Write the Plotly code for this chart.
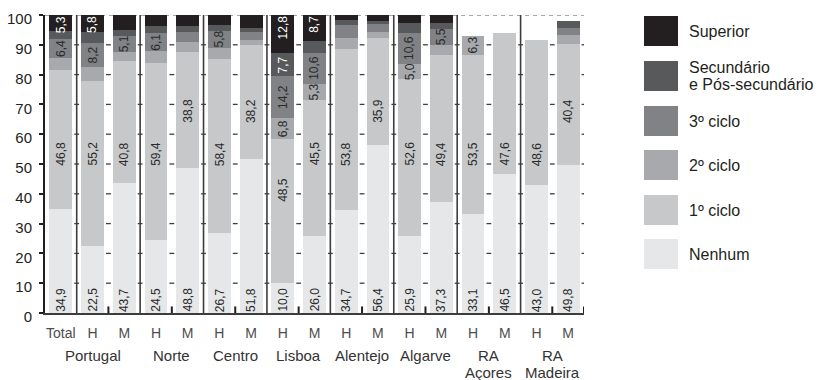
import plotly.graph_objects as go

# Educational attainment (%) by region and sex
GROUPS = [["Portugal"], ["Norte"], ["Centro"], ["Lisboa"], ["Alentejo"], ["Algarve"],
          ["RA", "Açores"], ["RA", "Madeira"]]
BAR_LABELS = ["Total", "H", "M", "H", "M", "H", "M", "H", "M",
              "H", "M", "H", "M", "H", "M", "H", "M"]
BAR_GROUP = [0, 0, 0, 1, 1, 2, 2, 3, 3, 4, 4, 5, 5, 6, 6, 7, 7]

SERIES = ["Nenhum", "1º ciclo", "2º ciclo", "3º ciclo",
          "Secundário e Pós-secundário", "Superior"]

NENHUM = [34.9, 22.5, 43.7, 24.5, 48.8, 26.7, 51.8, 10.0, 26.0,
          34.7, 56.4, 25.9, 37.3, 33.1, 46.5, 43.0, 49.8]
CICLO1 = [46.8, 55.2, 40.8, 59.4, 38.8, 58.4, 38.2, 48.5, 45.5,
          53.8, 35.9, 52.6, 49.4, 53.5, 47.6, 48.6, 40.4]
CICLO2 = [4.0, 4.8, 3.2, 4.1, 3.4, 3.9, 1.6, 6.8, 5.3,
          3.9, 2.0, 5.0, 3.2, 6.3, None, None, 3.1]
CICLO3 = [6.4, 8.2, 5.1, 6.1, 3.3, 5.8, 2.7, 14.2, 10.6,
          4.2, 2.7, 10.6, 5.5, None, None, None, 2.3]
SECUNDARIO = [2.6, 3.5, 2.2, 2.2, 2.0, 1.8, 1.3, 7.7, 3.9,
              1.7, 0.9, 3.3, 1.9, None, None, None, 2.4]
SUPERIOR = [5.3, 5.8, 5.0, 3.7, 3.7, 3.4, 4.4, 12.8, 8.7,
            1.7, 2.1, 2.6, 2.7, None, None, None, None]

VALUES = [NENHUM, CICLO1, CICLO2, CICLO3, SECUNDARIO, SUPERIOR]

# bars whose segment carries a printed value, per series
LABELLED = [
    set(range(17)),
    set(range(17)),
    {7, 8, 11, 13},
    {0, 1, 2, 3, 5, 7, 8, 11, 12},
    {7},
    {0, 1, 7, 8},
]

COLORS = ["#e6e7e8", "#c7c8ca", "#a7a9ac", "#808285", "#58595b", "#231f20"]
LABEL_COLORS = ["#2b2b2b", "#2b2b2b", "#2b2b2b", "#2b2b2b", "#ffffff", "#ffffff"]

# plot-area geometry (pixels)
W, H = 824, 380
L, R, T, B = 45, 240, 15, 67
PW, PH = W - L - R, H - T - B
PX_PER_UNIT = PH / 100.0
FONT = "Liberation Sans, Arial, sans-serif"
LBL_SIZE = 12


def fmt(v):
    return f"{v:.1f}".replace(".", ",")


def text_halfwidth(s):
    w = sum(0.278 if c == "," else 0.556 for c in s) * LBL_SIZE
    return w / 2.0


def paper_x(px):
    return (px - L) / PW


def paper_y(py):
    return (T + PH - py) / PH


xs = list(range(len(BAR_LABELS)))
fig = go.Figure()
for name, vals, col in zip(SERIES, VALUES, COLORS):
    fig.add_trace(go.Bar(
        x=xs, y=vals, name=name, width=0.72,
        marker=dict(color=col, line=dict(width=0)),
        showlegend=False, hoverinfo="skip",
    ))

annotations = []

# value labels inside the segments
for i in xs:
    base = 0.0
    for s, vals in enumerate(VALUES):
        v = vals[i]
        if v is None:
            continue
        top = base + v
        if i in LABELLED[s]:
            txt = fmt(v)
            hw = text_halfwidth(txt)
            hw_u = hw / PX_PER_UNIT
            yshift = 0
            if s == 0:
                y, yshift = 0, hw + 1.5
            elif s == len(VALUES) - 1:
                y, yshift = top, -(hw + 1)
            elif s == 1:
                y = None
                for lvl in (53.4, 67.8):
                    if lvl - hw_u > base + 1.5 and lvl + hw_u < top - 1.5:
                        y = lvl
                        break
                if y is None:
                    y = (base + top) / 2 + 7
            else:
                y = (base + top) / 2
            annotations.append(dict(
                x=i, y=y, xref="x", yref="y", text=txt, showarrow=False,
                textangle=-90, yshift=yshift, xanchor="center", yanchor="middle",
                font=dict(family=FONT, size=LBL_SIZE, color=LABEL_COLORS[s]),
            ))
        base = top

# region names under the H/M labels (one annotation per text line)
for g, lines in enumerate(GROUPS):
    members = [i for i in xs if BAR_GROUP[i] == g]
    cx = sum(members) / len(members)
    for k, ln in enumerate(lines):
        annotations.append(dict(
            x=cx, y=0, xref="x", yref="paper", text=ln, showarrow=False,
            xanchor="center", yanchor="middle", yshift=-42 - 17.5 * k,
            font=dict(family=FONT, size=15, color="#333333"),
        ))

# legend (drawn as boxes + text, top to bottom from Superior)
shapes = []
LEG_ROWS = [16, 61, 106, 150, 195, 239]
leg_text = ["Superior", ["Secundário", "e Pós-secundário"], "3º ciclo",
            "2º ciclo", "1º ciclo", "Nenhum"]
for k, row in enumerate(LEG_ROWS):
    s = len(SERIES) - 1 - k
    shapes.append(dict(
        type="rect", xref="paper", yref="paper",
        x0=paper_x(644), x1=paper_x(678), y0=paper_y(row + 30), y1=paper_y(row),
        fillcolor=COLORS[s], line=dict(width=0),
    ))
    lines = leg_text[k] if isinstance(leg_text[k], list) else [leg_text[k]]
    centers = [row + 15] if len(lines) == 1 else [row + 6.5, row + 23.5]
    for ln, cy in zip(lines, centers):
        annotations.append(dict(
            x=paper_x(687), y=paper_y(cy), xref="paper", yref="paper",
            text=ln, showarrow=False, xanchor="left", yanchor="middle",
            font=dict(family=FONT, size=16, color="#231f20"),
        ))

# frame decoration: dashed top, group separators, small level ticks
LEVELS = list(range(10, 100, 10))
n = len(xs)
shapes.append(dict(type="line", xref="x", yref="y", x0=-0.5, x1=n - 0.5, y0=100, y1=100,
                   line=dict(color="#8a8a8a", width=1.3, dash="4px,4px"), layer="below"))
boundaries = [i + 0.5 for i in range(n - 1)]
for b in boundaries:
    left_g, right_g = BAR_GROUP[int(b - 0.5)], BAR_GROUP[int(b + 0.5)]
    if left_g != right_g or b == 0.5:
        shapes.append(dict(type="line", xref="x", yref="y", x0=b, x1=b, y0=0, y1=100,
                           line=dict(color="#3d3d3d", width=1.6)))
    else:
        shapes.append(dict(type="line", xref="x", yref="y", x0=b, x1=b, y0=0, y1=2.2,
                           line=dict(color="#231f20", width=2)))
for b in boundaries + [n - 0.5]:
    for lv in LEVELS:
        shapes.append(dict(type="line", xref="x", yref="y", x0=b - 0.075, x1=b + 0.075,
                           y0=lv, y1=lv, line=dict(color="#3d3d3d", width=1.3)))
shapes.append(dict(type="line", xref="x", yref="y", x0=n - 0.5, x1=n - 0.5, y0=0, y1=2.2,
                   line=dict(color="#231f20", width=2)))

fig.update_layout(
    width=W, height=H,
    margin=dict(l=L, r=R, t=T, b=B, pad=0, autoexpand=False),
    paper_bgcolor="white", plot_bgcolor="white",
    barmode="stack", bargap=0,
    font=dict(family=FONT, color="#231f20"),
    annotations=annotations, shapes=shapes,
    xaxis=dict(
        range=[-0.5, n - 0.5], tickmode="array", tickvals=xs, ticktext=BAR_LABELS,
        showgrid=False, zeroline=False, showline=True, linecolor="#3d3d3d", linewidth=2,
        ticks="", tickfont=dict(family=FONT, size=14, color="#4d4d4d"),
        ticklabelstandoff=6, automargin=False, fixedrange=True,
    ),
    yaxis=dict(
        range=[0, 100], tickmode="linear", tick0=0, dtick=10,
        showgrid=False, zeroline=False, showline=True, linecolor="#231f20", linewidth=2,
        ticks="outside", ticklen=4, tickwidth=1.5, tickcolor="#231f20",
        tickfont=dict(family=FONT, size=15, color="#231f20"),
        ticklabelshift=4, ticklabelstandoff=4, automargin=False, fixedrange=True,
    ),
)

fig.write_html("out.html")
